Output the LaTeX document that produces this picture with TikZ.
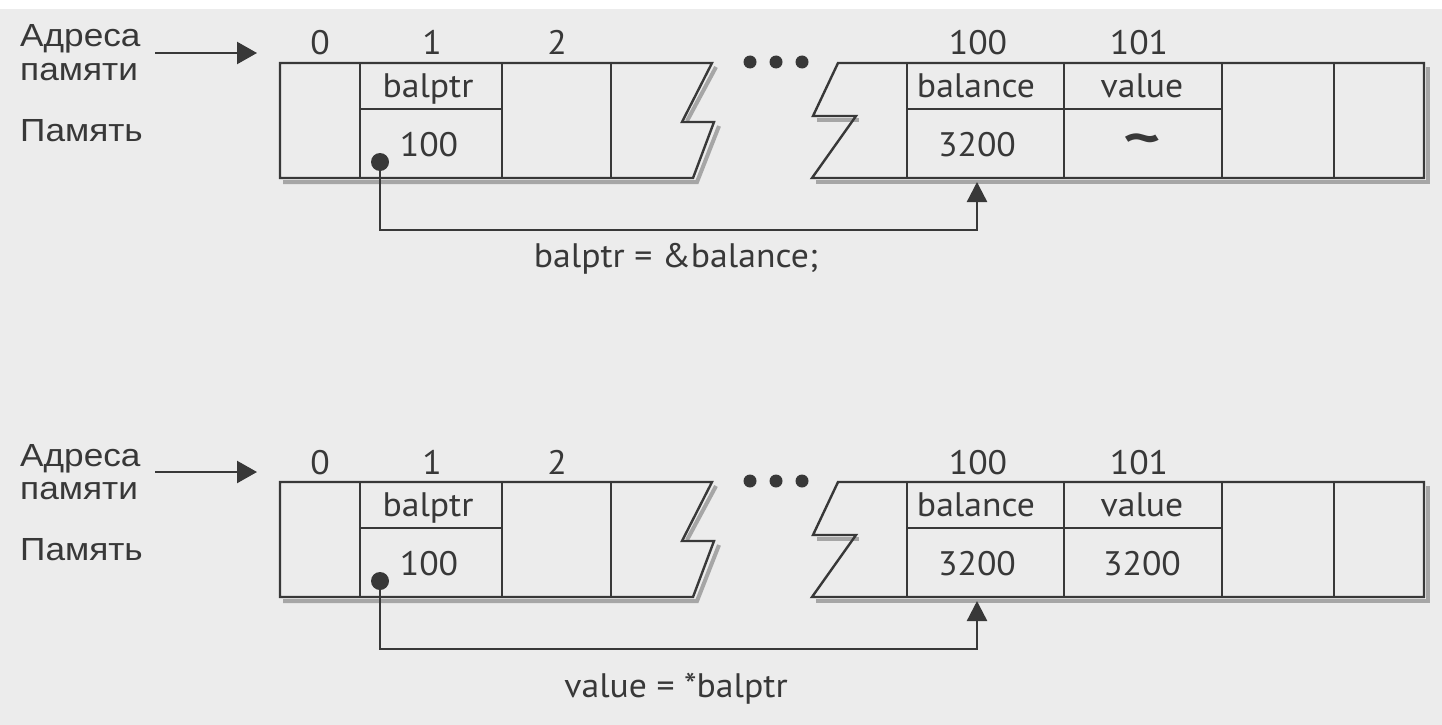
\documentclass[tikz,border=0pt]{standalone}
\usepackage{fontspec}
\setmainfont{PT Sans}
\newfontfamily\rusfont{Liberation Sans}
\usetikzlibrary{arrows.meta}
\definecolor{bg}{HTML}{ECECEC}
\definecolor{ink}{HTML}{383838}
\definecolor{txt}{HTML}{383838}
\definecolor{shd}{HTML}{A6A6A6}
\newcommand{\wtxt}[1]{\scalebox{1.05}[1]{#1}}
\newcommand{\wrus}[1]{\scalebox{1.1}[1]{#1}}
\newcommand{\drawpanel}[5]{%
\begin{scope}[yshift=#2]
 % shadows
 \draw[shadowline] (716,67)--(687,121);
 \draw[shadowline] (719,126)--(697,182)--(283,182);
 \draw[shadowline] (817,120)--(859,120);
 \draw[shadowline] (816,182)--(1428,182)--(1428,67);
 % outlines
 \draw[cellline] (280,63)--(712,63)--(682,122)--(714,122)--(693,178)--(280,178)--cycle;
 \draw[cellline] (838,63)--(1424,63)--(1424,178)--(812,178)--(856,116)--(813,116)--cycle;
 \draw[cellline] (360,63)--(360,178) (502,63)--(502,178) (611,63)--(611,178);
 \draw[cellline] (907,63)--(907,178) (1064,63)--(1064,178) (1222,63)--(1222,178) (1334,63)--(1334,178);
 \draw[cellline] (360,109)--(502,109) (907,109)--(1222,109);
 \foreach \x in {750,776,802} \fill[ink] (\x,62) circle[radius=6.5pt];
 % left labels
 \node[rustext] (adr#1) at (20,47) {\wrus{Адреса}};
 \node[rustext] (pam#1) at (20,80) {\wrus{памяти}};
 \node[rustext] (mem#1) at (20,141) {\wrus{Память}};
 \coordinate (as#1) at (155,53);
 \coordinate (ae#1) at (257,53);
 \draw[conn,-{Triangle[length=20pt,width=22pt]}] (as#1) -- (ae#1);
 % addresses
 \node[celltext] (n0#1) at (320,55) {\wtxt{0}};
 \node[celltext] (n1#1) at (432,55) {\wtxt{1}};
 \node[celltext] (n2#1) at (557,55) {\wtxt{2}};
 \node[celltext] (n100#1) at (978,55) {\wtxt{100}};
 \node[celltext] (n101#1) at (1139,55) {\wtxt{101}};
 % cell contents
 \node[celltext] (pn#1) at (428,97) {\wtxt{balptr}};
 \node[celltext] (pv#1) at (429,156) {\wtxt{100}};
 \node[celltext] (bn#1) at (976,97) {\wtxt{balance}};
 \node[celltext] (bv#1) at (977,156) {\wtxt{3200}};
 \node[celltext] (vn#1) at (1142,97) {\wtxt{value}};
 \node[celltext] (vv#1) at (1142,156) {#3};
 % pointer connector
 \node[dotnode] (d#1) at (380,162) {};
 \coordinate (k#1) at (977,230);
 \coordinate (t#1) at (977,182);
 \draw[conn,-{Triangle[length=20pt,width=20pt]}] (d#1.center) |- (k#1) -- (t#1);
 \node[celltext] (cap#1) at (676,#5) {\wtxt{#4}};
\end{scope}}

\begin{document}
\begin{tikzpicture}[x=1pt,y=-1pt,
  cellline/.style={draw=ink,line width=2.4pt,line join=miter},
  shadowline/.style={draw=shd,line width=4pt},
  celltext/.style={inner sep=0pt,anchor=base,text=txt,font=\fontsize{34}{34}\selectfont},
  rustext/.style={inner sep=0pt,anchor=base west,text=txt,font=\rusfont\fontsize{32}{32}\selectfont},
  conn/.style={draw=ink,line width=2.4pt},
  dotnode/.style={circle,fill=ink,inner sep=0pt,minimum size=18pt}]
 \useasboundingbox (0,0) rectangle (1442,725);
 \fill[bg] (0,0) rectangle (1442,725);
 \fill[white] (0,0) rectangle (1442,9);
 \drawpanel{a}{0pt}{\scalebox{2.1}[1.5]{\textbf{\textasciitilde}}}{balptr = \&balance;}{267}
 \drawpanel{b}{-419pt}{\wtxt{3200}}{value = *balptr}{278}
\end{tikzpicture}
\end{document}
